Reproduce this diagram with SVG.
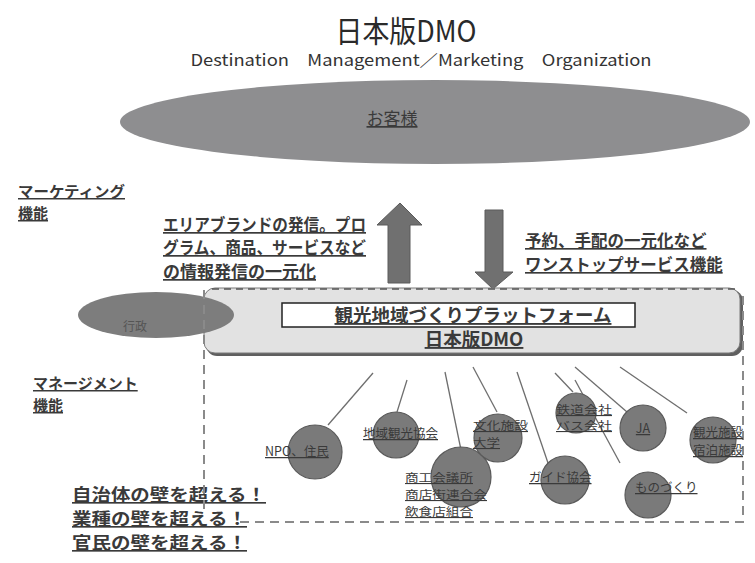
<svg xmlns="http://www.w3.org/2000/svg" width="755" height="563" viewBox="0 0 755 563">
<style>
text{font-family:"Noto Sans CJK JP","Liberation Sans",sans-serif;}
.b{font-weight:bold;fill:#3a3a3a;text-decoration:underline;}
.c{fill:#7a7a7a;stroke:#5a5a5a;stroke-width:1.2;}
.ct{font-size:12.5px;fill:#3a3a3a;text-decoration:underline;}
.cs{font-size:11px;fill:#3a3a3a;text-decoration:underline;}
.ln{stroke:#6e6e6e;stroke-width:1.3;fill:none;}
.dash{stroke:#8a8a8a;stroke-width:2;stroke-dasharray:9,6;fill:none;}
</style>
<rect width="755" height="563" fill="#ffffff"/>
<g id="title">
<text x="406" y="42" font-size="30" text-anchor="middle" fill="#2a2a2a" textLength="141" lengthAdjust="spacingAndGlyphs">日本版DMO</text>
<text x="421" y="66" font-size="16" text-anchor="middle" fill="#333" textLength="461" lengthAdjust="spacingAndGlyphs">Destination　Management／Marketing　Organization</text>
</g>
<g id="customer">
<ellipse cx="435" cy="122" rx="315" ry="42" fill="#8e8e90"/>
<text x="392" y="125" font-size="17" text-anchor="middle" fill="#3a3a3a" text-decoration="underline">お客様</text>
</g>
<g id="labels">
<text class="b" x="18" y="197" font-size="15" textLength="107" lengthAdjust="spacingAndGlyphs">マーケティング</text>
<text class="b" x="18" y="219" font-size="15">機能</text>
<text class="b" x="33" y="389" font-size="15">マネージメント</text>
<text class="b" x="33" y="411" font-size="15">機能</text>
<text class="b" x="163" y="231" font-size="17" textLength="203" lengthAdjust="spacingAndGlyphs">エリアブランドの発信。プロ</text>
<text class="b" x="163" y="254" font-size="17" textLength="203" lengthAdjust="spacingAndGlyphs">グラム、商品、サービスなど</text>
<text class="b" x="163" y="278" font-size="17">の情報発信の一元化</text>
<text class="b" x="525" y="247" font-size="16.5">予約、手配の一元化など</text>
<text class="b" x="525" y="271" font-size="16.5">ワンストップサービス機能</text>
<text class="b" x="72" y="501" font-size="16.5" textLength="194" lengthAdjust="spacingAndGlyphs">自治体の壁を超える！</text>
<text class="b" x="72" y="525" font-size="16.5" textLength="175" lengthAdjust="spacingAndGlyphs">業種の壁を超える！</text>
<text class="b" x="72" y="549" font-size="16.5" textLength="175" lengthAdjust="spacingAndGlyphs">官民の壁を超える！</text>
</g>
<g id="arrows">
<polygon points="400,203 422,225 410,225 410,283 388,283 388,225 377,225" fill="#707070" stroke="#5a5a5a" stroke-width="1"/>
<polygon points="485,210 503,210 503,272 513,272 493,289 475,272 485,272" fill="#707070" stroke="#5a5a5a" stroke-width="1"/>
</g>
<g id="platform">
<rect x="206" y="290" width="537" height="66" rx="11" fill="#5f5f5f"/>
<rect x="204" y="288" width="536" height="65" rx="11" fill="#e2e2e2" stroke="#7a7a7a" stroke-width="1"/>
<rect x="282" y="303" width="353" height="24" fill="#ffffff" stroke="#222" stroke-width="1.5"/>
<text class="b" x="473" y="322" font-size="18.5" text-anchor="middle" fill="#333">観光地域づくりプラットフォーム</text>
<text class="b" x="474" y="346" font-size="18.5" text-anchor="middle" fill="#333">日本版DMO</text>
</g>
<g id="gyosei">
<ellipse cx="156" cy="315" rx="78" ry="23" fill="#7d7d7d"/>
<text x="135" y="331" font-size="12" text-anchor="middle" fill="#555">行政</text>
</g>
<g id="region">
<path class="dash" d="M204,290 V510 M240,522 H743 V290"/>
<path d="M212,289 H735" stroke="#555" stroke-width="1.5" stroke-dasharray="7,5" fill="none"/>
</g>
<g id="connectors">
<line class="ln" x1="328" y1="425" x2="373" y2="373"/>
<line class="ln" x1="397" y1="412" x2="407" y2="380"/>
<line class="ln" x1="461" y1="450" x2="445" y2="372"/>
<line class="ln" x1="497" y1="412" x2="473" y2="367"/>
<line class="ln" x1="548" y1="463" x2="517" y2="372"/>
<line class="ln" x1="573" y1="392" x2="555" y2="373"/>
<line class="ln" x1="575" y1="380" x2="620" y2="463"/>
<line class="ln" x1="627" y1="412" x2="575" y2="367"/>
<line class="ln" x1="687" y1="413" x2="620" y2="367"/>
</g>
<g id="npo"><circle class="c" cx="315" cy="452" r="27"/><text class="ct" x="265" y="456">NPO、住民</text></g>
<g id="chiiki"><circle class="c" cx="396" cy="435" r="23"/><text class="ct" x="363" y="438">地域観光協会</text></g>
<g id="shoko"><circle class="c" cx="461" cy="477" r="30"/><text class="cs" x="405" y="482" textLength="68" lengthAdjust="spacingAndGlyphs">商工会議所</text><text class="cs" x="405" y="499" textLength="82" lengthAdjust="spacingAndGlyphs">商店街連合会</text><text class="cs" x="405" y="516" textLength="68" lengthAdjust="spacingAndGlyphs">飲食店組合</text></g>
<g id="bunka"><circle class="c" cx="498" cy="438" r="24"/><text class="cs" x="473" y="430" textLength="55" lengthAdjust="spacingAndGlyphs">文化施設</text><text class="cs" x="473" y="447" textLength="27" lengthAdjust="spacingAndGlyphs">大学</text></g>
<g id="guide"><circle class="c" cx="565" cy="480" r="24"/><text class="ct" x="529" y="482">ガイド協会</text></g>
<g id="tetsudo"><circle class="c" cx="576" cy="413" r="20"/><text class="cs" x="556" y="414" textLength="56" lengthAdjust="spacingAndGlyphs">鉄道会社</text><text class="cs" x="556" y="430" textLength="56" lengthAdjust="spacingAndGlyphs">バス会社</text></g>
<g id="ja"><circle class="c" cx="643" cy="428" r="23"/><text class="ct" x="643" y="433" text-anchor="middle">JA</text></g>
<g id="monozukuri"><circle class="c" cx="648" cy="495" r="23"/><text class="ct" x="635" y="492">ものづくり</text></g>
<g id="kanko"><circle class="c" cx="713" cy="440" r="23"/><text class="ct" x="693" y="437">観光施設</text><text class="ct" x="693" y="455">宿泊施設</text></g>
</svg>
